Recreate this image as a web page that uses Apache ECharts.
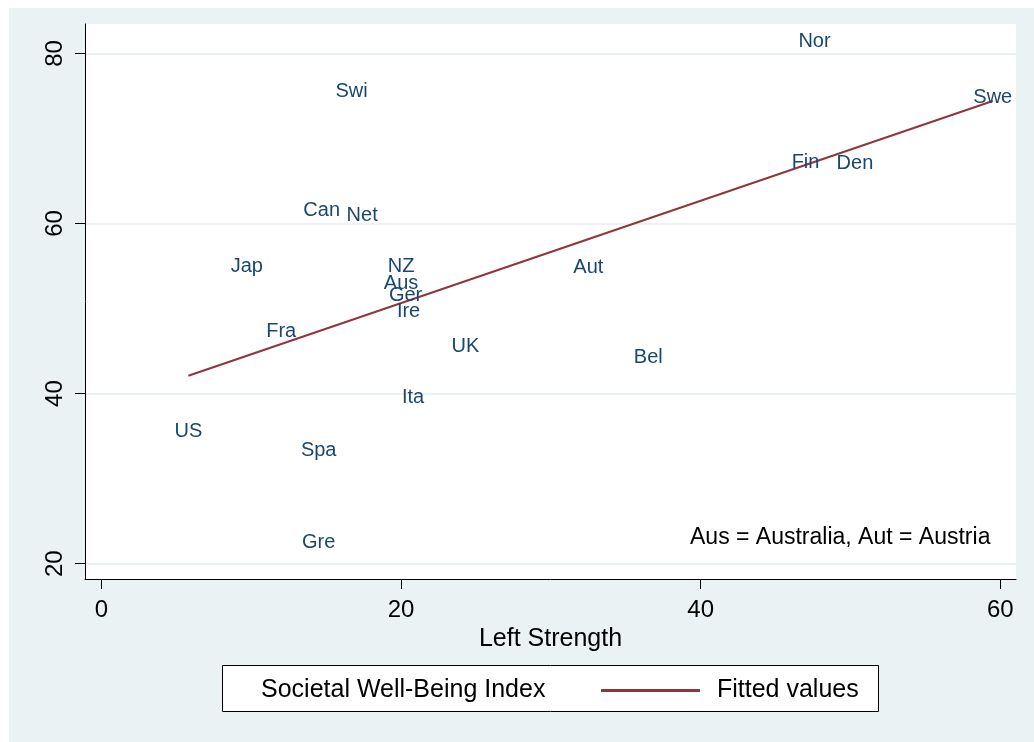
<!DOCTYPE html>
<html>
<head>
<meta charset="utf-8">
<script src="https://cdn.jsdelivr.net/npm/echarts@6/dist/echarts.min.js"></script>
<style>
html,body{margin:0;padding:0;background:#ffffff;}
#chart{width:1034px;height:742px;}
</style>
</head>
<body>
<div id="chart"></div>
<script>
// ---- data ----
const countries = ['Nor','Swi','Swe','Fin','Den','Can','Net','Jap','NZ','Aus','Ger','Ire','Aut','Fra','UK','Bel','Ita','US','Spa','Gre'];
const leftStrength = [47.6,16.7,59.5,47.0,50.3,14.7,17.4,9.7,20.0,20.0,20.3,20.5,32.5,12.0,24.3,36.5,20.8,5.8,14.5,14.5];
const wellBeing = [81.4,75.5,74.8,67.2,67.0,61.5,60.9,54.9,54.9,53.0,51.5,49.7,54.8,47.3,45.5,44.2,39.5,35.6,33.3,22.5];
const fittedX = [5.8, 59.5];
const fittedY = [42.1, 74.4];
const xTicks = [0, 20, 40, 60];
const yTicks = [20, 40, 60, 80];
const xTitle = 'Left Strength';
const seriesNames = ['Societal Well-Being Index', 'Fitted values'];
const note = 'Aus = Australia, Aut = Austria';

const FONT = "'Liberation Sans', Arial, Helvetica, sans-serif";
const BG = '#eaf2f3';
const LABEL_COLOR = '#1a476f';
const FIT_COLOR = '#90353b';

const scatterData = countries.map((c, i) => ({ name: c, value: [leftStrength[i], wellBeing[i]] }));
const fitData = fittedX.map((x, i) => [x, fittedY[i]]);

const chart = echarts.init(document.getElementById('chart'), null, { renderer: 'canvas' });
chart.setOption({
  animation: false,
  backgroundColor: '#ffffff',
  textStyle: { fontFamily: FONT },
  graphic: [
    { type: 'rect', z: -10, silent: true, shape: { x: 9, y: 8, width: 1025, height: 734 }, style: { fill: BG } },
    { type: 'rect', z: 5, silent: true, shape: { x: 222.5, y: 665.5, width: 656, height: 46 }, style: { fill: '#ffffff', stroke: '#000000', lineWidth: 1 } },
    { type: 'text', z: 20, silent: true, left: 690, top: 526, style: { text: note, fill: '#000000', font: '23px ' + FONT } }
  ],
  grid: {
    left: 85, top: 24, width: 931, height: 555,
    show: true, backgroundColor: '#ffffff', borderWidth: 0
  },
  legend: [
    {
      data: [{ name: seriesNames[0], icon: 'none' }],
      left: 255, top: 678, padding: 0, itemWidth: 1, itemHeight: 3, z: 10,
      selectedMode: false,
      textStyle: { fontSize: 25, color: '#000000', fontFamily: FONT }
    },
    {
      data: [{ name: seriesNames[1], icon: 'rect' }],
      left: 601, top: 678, padding: 0, itemWidth: 99, itemHeight: 3, z: 10,
      selectedMode: false,
      textStyle: { fontSize: 25, color: '#000000', fontFamily: FONT, padding: [0, 0, 0, 12] }
    }
  ],
  xAxis: {
    type: 'value', min: -1.1, max: 61.05,
    name: xTitle, nameLocation: 'middle', nameGap: 45,
    nameTextStyle: { fontSize: 25, color: '#000000', fontFamily: FONT },
    axisLine: { show: true, onZero: false, lineStyle: { color: '#000000', width: 1 } },
    axisTick: { show: true, customValues: xTicks, length: 10, lineStyle: { color: '#000000' } },
    axisLabel: { customValues: xTicks, fontSize: 24, color: '#000000', margin: 19, fontFamily: FONT },
    splitLine: { show: false }
  },
  yAxis: {
    type: 'value', min: 18.2, max: 83.46,
    axisLine: { show: true, onZero: false, lineStyle: { color: '#000000', width: 1 } },
    axisTick: { show: true, customValues: yTicks, length: 10, lineStyle: { color: '#000000' } },
    axisLabel: { customValues: yTicks, rotate: 90, fontSize: 24, color: '#000000', margin: 18, fontFamily: FONT },
    splitLine: { show: false }
  },
  series: [
    {
      name: 'gridlines', type: 'line', data: [], silent: true, z: 0, zlevel: 0,
      markLine: {
        silent: true, symbol: 'none', animation: false, z: 0,
        label: { show: false },
        lineStyle: { color: BG, width: 2, type: 'solid' },
        data: yTicks.map(v => ({ yAxis: v }))
      }
    },
    {
      name: seriesNames[1], type: 'line', data: fitData, z: 3,
      symbol: 'none', showSymbol: false,
      lineStyle: { color: FIT_COLOR, width: 2 },
      itemStyle: { color: FIT_COLOR }
    },
    {
      name: seriesNames[0], type: 'scatter', data: scatterData, z: 4,
      symbol: 'circle', symbolSize: 1,
      itemStyle: { color: 'rgba(0,0,0,0)' },
      label: {
        show: true, position: 'inside', formatter: p => p.name,
        padding: [4, 0, 0, 0],
        color: LABEL_COLOR, fontSize: 20, fontFamily: FONT,
        textBorderWidth: 0, textBorderColor: 'transparent', opacity: 1
      },
      emphasis: { disabled: true },
      labelLayout: { hideOverlap: false }
    }
  ]
});
</script>
</body>
</html>
